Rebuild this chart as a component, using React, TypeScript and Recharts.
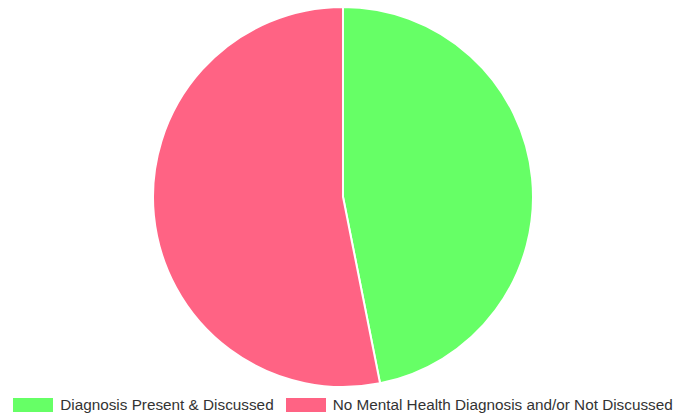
import { PieChart, Pie, Cell, Legend } from "recharts";

const categories = ["Diagnosis Present & Discussed", "No Mental Health Diagnosis and/or Not Discussed"];
const counts = [15, 17];
const colors = ["#66ff66", "#ff6384"];

const data = categories.map((name, i) => ({ name, value: counts[i] }));

function LegendRow() {
  return (
    <div
      style={{
        display: "flex",
        justifyContent: "center",
        alignItems: "center",
        paddingLeft: 10,
        fontFamily: "'Liberation Sans', Arial, sans-serif",
        fontSize: 15.3,
        color: "#333",
      }}
    >
      {categories.map((name, i) => (
        <div key={name} style={{ display: "flex", alignItems: "center", marginRight: i === 0 ? 12 : 0 }}>
          <span style={{ width: 40, height: 14, background: colors[i], marginRight: 7, display: "inline-block" }} />
          <span>{name}</span>
        </div>
      ))}
    </div>
  );
}

export default function App() {
  return (
    <div style={{ position: "absolute", left: 0, top: 0, width: 676, height: 416, background: "#fff" }}>
      <PieChart width={676} height={416} margin={{ top: 0, right: 0, bottom: 0, left: 0 }}>
        <Pie
          data={data}
          dataKey="value"
          nameKey="name"
          cx={343}
          cy={197}
          outerRadius={190}
          startAngle={90}
          endAngle={-270}
          stroke="#fff"
          strokeWidth={2}
          isAnimationActive={false}
        >
          {data.map((d, i) => (
            <Cell key={d.name} fill={colors[i]} />
          ))}
        </Pie>
        <Legend
          verticalAlign="bottom"
          content={() => <LegendRow />}
          wrapperStyle={{ bottom: 2, left: 0, width: 676 }}
        />
      </PieChart>
    </div>
  );
}
